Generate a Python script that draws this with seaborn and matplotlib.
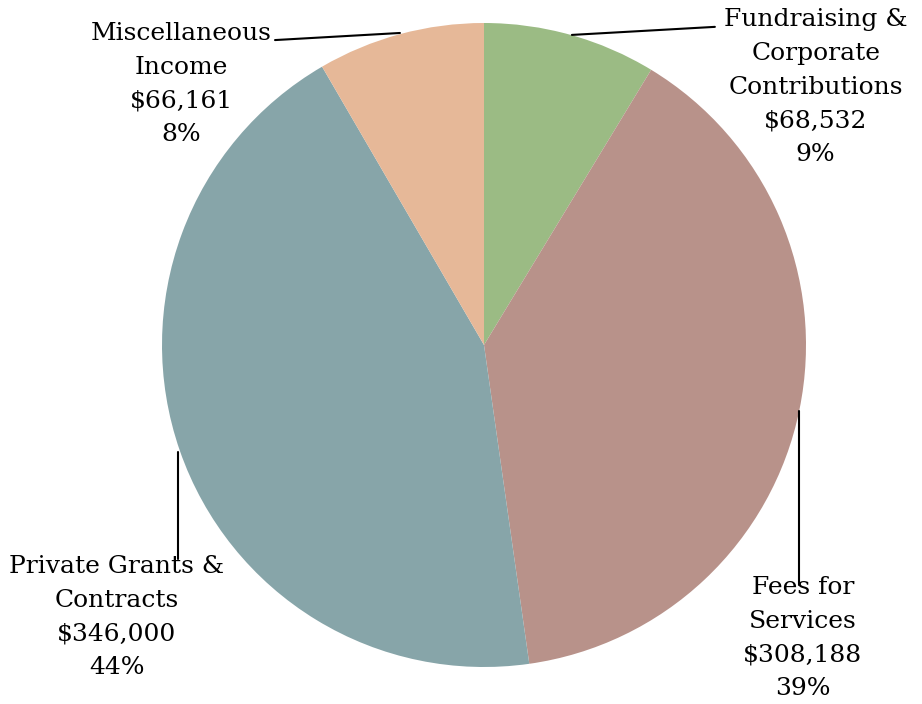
import numpy as np
import seaborn as sns
import matplotlib
matplotlib.use('Agg')
import matplotlib.pyplot as plt

categories = ['Fundraising &\nCorporate\nContributions', 'Fees for\nServices',
              'Private Grants &\nContracts', 'Miscellaneous\nIncome']
amounts = [68532, 308188, 346000, 66161]
colors = ['#9BBB84', '#B8928A', '#87A5A9', '#E6B898']

# label placement (data units, pie radius = 1) and leader lines
label_pos = [(1.03, 0.80), (0.99, -0.91), (-1.14, -0.845), (-0.94, 0.81)]
leaders = [[(0.273, 0.963), (0.717, 0.988)],
           [(0.978, -0.205), (0.978, -0.745)],
           [(-0.950, -0.332), (-0.950, -0.665)],
           [(-0.261, 0.969), (-0.649, 0.947)]]

sns.set_theme(style='white')
plt.rcParams['font.family'] = ['DejaVu Serif']

fig = plt.figure(figsize=(9.22, 7.04), dpi=100)
ax = fig.add_axes([0, 0, 1, 1])
ax.pie(amounts, colors=colors, startangle=90, counterclock=False, radius=1,
       wedgeprops={'linewidth': 0})
ax.set_xlim(-484 / 322, (922 - 484) / 322)
ax.set_ylim(-359 / 322, 345 / 322)
ax.set_aspect('auto')
ax.axis('off')

total = sum(amounts)
for cat, val, (x, y), line in zip(categories, amounts, label_pos, leaders):
    pct = round(val / total * 100)
    ax.text(x, y, f'{cat}\n${val:,}\n{pct}%', ha='center', va='center',
            fontsize=18, linespacing=1.6, color='black')
    (x0, y0), (x1, y1) = line
    ax.plot([x0, x1], [y0, y1], color='black', lw=1.5)

fig.savefig('out.png', dpi=100)
